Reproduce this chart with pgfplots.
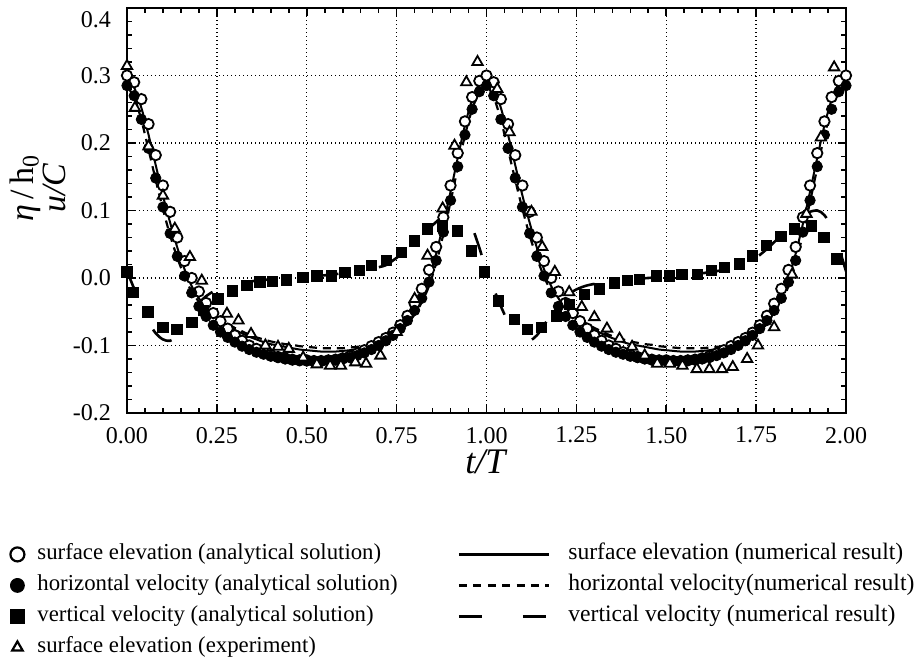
\documentclass[border=0pt]{standalone}
\usepackage{fontspec}
\setmainfont{Liberation Serif}
\usepackage{pgfplots}
\pgfplotsset{compat=1.18}
\usetikzlibrary{calc}

% analytical surface elevation eta/h0
\pgfplotstableread{
t y
0.00 0.300
0.02 0.290
0.04 0.265
0.06 0.228
0.08 0.182
0.10 0.137
0.12 0.098
0.14 0.060
0.16 0.025
0.18 0.000
0.20 -0.020
0.22 -0.037
0.24 -0.052
0.26 -0.064
0.28 -0.075
0.30 -0.085
0.32 -0.093
0.34 -0.100
0.36 -0.105
0.38 -0.110
0.40 -0.114
0.42 -0.117
0.44 -0.119
0.46 -0.121
0.48 -0.122
0.50 -0.122
0.52 -0.123
0.54 -0.123
0.56 -0.122
0.58 -0.121
0.60 -0.119
0.62 -0.116
0.64 -0.112
0.66 -0.107
0.68 -0.101
0.70 -0.095
0.72 -0.089
0.74 -0.081
0.76 -0.070
0.78 -0.056
0.80 -0.038
0.82 -0.016
0.84 0.012
0.86 0.046
0.88 0.090
0.90 0.137
0.92 0.185
0.94 0.232
0.96 0.268
0.98 0.292
1.00 0.300
1.02 0.290
1.04 0.265
1.06 0.228
1.08 0.182
1.10 0.137
1.12 0.098
1.14 0.060
1.16 0.025
1.18 0.000
1.20 -0.020
1.22 -0.037
1.24 -0.052
1.26 -0.064
1.28 -0.075
1.30 -0.085
1.32 -0.093
1.34 -0.100
1.36 -0.105
1.38 -0.110
1.40 -0.114
1.42 -0.117
1.44 -0.119
1.46 -0.121
1.48 -0.122
1.50 -0.122
1.52 -0.123
1.54 -0.123
1.56 -0.122
1.58 -0.121
1.60 -0.119
1.62 -0.116
1.64 -0.112
1.66 -0.107
1.68 -0.101
1.70 -0.095
1.72 -0.089
1.74 -0.081
1.76 -0.070
1.78 -0.056
1.80 -0.038
1.82 -0.016
1.84 0.012
1.86 0.046
1.88 0.090
1.90 0.137
1.92 0.185
1.94 0.232
1.96 0.268
1.98 0.292
2.00 0.300
}\etaana

% analytical horizontal velocity u/C
\pgfplotstableread{
t y
0.00 0.285
0.02 0.270
0.04 0.235
0.06 0.192
0.08 0.148
0.10 0.105
0.12 0.066
0.14 0.032
0.16 0.003
0.18 -0.022
0.20 -0.042
0.22 -0.057
0.24 -0.070
0.26 -0.080
0.28 -0.088
0.30 -0.095
0.32 -0.101
0.34 -0.106
0.36 -0.110
0.38 -0.113
0.40 -0.116
0.42 -0.118
0.44 -0.120
0.46 -0.121
0.48 -0.122
0.50 -0.123
0.52 -0.123
0.54 -0.123
0.56 -0.122
0.58 -0.121
0.60 -0.120
0.62 -0.118
0.64 -0.115
0.66 -0.111
0.68 -0.106
0.70 -0.100
0.72 -0.093
0.74 -0.085
0.76 -0.075
0.78 -0.063
0.80 -0.048
0.82 -0.030
0.84 -0.006
0.86 0.026
0.88 0.068
0.90 0.115
0.92 0.165
0.94 0.212
0.96 0.250
0.98 0.276
1.00 0.285
1.02 0.270
1.04 0.235
1.06 0.192
1.08 0.148
1.10 0.105
1.12 0.066
1.14 0.032
1.16 0.003
1.18 -0.022
1.20 -0.042
1.22 -0.057
1.24 -0.070
1.26 -0.080
1.28 -0.088
1.30 -0.095
1.32 -0.101
1.34 -0.106
1.36 -0.110
1.38 -0.113
1.40 -0.116
1.42 -0.118
1.44 -0.120
1.46 -0.121
1.48 -0.122
1.50 -0.123
1.52 -0.123
1.54 -0.123
1.56 -0.122
1.58 -0.121
1.60 -0.120
1.62 -0.118
1.64 -0.115
1.66 -0.111
1.68 -0.106
1.70 -0.100
1.72 -0.093
1.74 -0.085
1.76 -0.075
1.78 -0.063
1.80 -0.048
1.82 -0.030
1.84 -0.006
1.86 0.026
1.88 0.068
1.90 0.115
1.92 0.165
1.94 0.212
1.96 0.250
1.98 0.276
2.00 0.285
}\uana

% analytical vertical velocity
\pgfplotstableread{
t y
0.000 0.009
0.017 -0.021
0.058 -0.050
0.100 -0.073
0.139 -0.076
0.180 -0.066
0.213 -0.048
0.253 -0.031
0.294 -0.019
0.333 -0.011
0.370 -0.006
0.405 -0.005
0.444 -0.003
0.489 0.001
0.528 0.003
0.569 0.003
0.606 0.008
0.647 0.011
0.680 0.019
0.722 0.026
0.764 0.038
0.800 0.055
0.836 0.073
0.878 0.077
0.919 0.070
0.958 0.040
0.994 0.009
1.033 -0.034
1.078 -0.061
1.114 -0.076
1.153 -0.073
1.194 -0.056
1.231 -0.039
1.272 -0.024
1.314 -0.016
1.356 -0.007
1.392 -0.004
1.425 -0.002
1.472 0.003
1.508 0.003
1.544 0.005
1.586 0.005
1.625 0.011
1.661 0.016
1.703 0.021
1.739 0.033
1.778 0.048
1.819 0.062
1.856 0.073
1.903 0.077
1.939 0.060
1.975 0.028
}\wana

% measured surface elevation
\pgfplotstableread{
t y
0.000 0.314
0.022 0.252
0.060 0.195
0.100 0.122
0.133 0.073
0.175 0.031
0.208 -0.004
0.278 -0.053
0.310 -0.063
0.345 -0.083
0.385 -0.100
0.420 -0.102
0.450 -0.105
0.490 -0.118
0.528 -0.128
0.565 -0.130
0.595 -0.130
0.635 -0.125
0.665 -0.127
0.705 -0.115
0.750 -0.080
0.800 -0.031
0.836 0.033
0.878 0.103
0.911 0.196
0.944 0.290
0.975 0.320
1.030 0.280
1.064 0.216
1.125 0.098
1.155 0.046
1.190 0.009
1.230 -0.021
1.265 -0.043
1.300 -0.058
1.335 -0.075
1.370 -0.090
1.405 -0.102
1.440 -0.115
1.475 -0.127
1.510 -0.127
1.545 -0.130
1.585 -0.135
1.620 -0.135
1.655 -0.135
1.685 -0.132
1.725 -0.120
1.755 -0.100
1.800 -0.073
1.850 0.005
1.890 0.095
1.930 0.208
1.967 0.312
}\etaexp

% numerical surface elevation
\pgfplotstableread{
t y
0.00 0.295
0.02 0.282
0.04 0.252
0.06 0.212
0.08 0.167
0.10 0.122
0.12 0.082
0.14 0.045
0.16 0.013
0.18 -0.012
0.20 -0.030
0.22 -0.044
0.24 -0.055
0.26 -0.064
0.28 -0.071
0.30 -0.077
0.32 -0.082
0.34 -0.087
0.36 -0.091
0.38 -0.095
0.40 -0.098
0.42 -0.100
0.44 -0.102
0.46 -0.104
0.48 -0.106
0.50 -0.107
0.52 -0.108
0.54 -0.109
0.56 -0.109
0.58 -0.109
0.60 -0.108
0.62 -0.107
0.64 -0.105
0.66 -0.103
0.68 -0.100
0.70 -0.096
0.72 -0.090
0.74 -0.082
0.76 -0.072
0.78 -0.060
0.80 -0.045
0.82 -0.025
0.84 0.000
0.86 0.036
0.88 0.080
0.90 0.128
0.92 0.178
0.94 0.226
0.96 0.264
0.98 0.288
1.00 0.297
1.02 0.282
1.04 0.252
1.06 0.212
1.08 0.167
1.10 0.122
1.12 0.082
1.14 0.045
1.16 0.013
1.18 -0.012
1.20 -0.030
1.22 -0.044
1.24 -0.055
1.26 -0.064
1.28 -0.071
1.30 -0.077
1.32 -0.082
1.34 -0.087
1.36 -0.091
1.38 -0.095
1.40 -0.098
1.42 -0.100
1.44 -0.102
1.46 -0.104
1.48 -0.106
1.50 -0.107
1.52 -0.108
1.54 -0.109
1.56 -0.109
1.58 -0.109
1.60 -0.108
1.62 -0.107
1.64 -0.105
1.66 -0.103
1.68 -0.100
1.70 -0.096
1.72 -0.090
1.74 -0.082
1.76 -0.072
1.78 -0.060
1.80 -0.045
1.82 -0.025
1.84 0.000
1.86 0.036
1.88 0.080
1.90 0.128
1.92 0.178
1.94 0.226
1.96 0.264
1.98 0.288
2.00 0.297
}\etanum

% numerical horizontal velocity
\pgfplotstableread{
t y
0.00 0.283
0.02 0.268
0.04 0.234
0.06 0.190
0.08 0.145
0.10 0.102
0.12 0.063
0.14 0.030
0.16 0.002
0.18 -0.020
0.20 -0.035
0.22 -0.045
0.24 -0.053
0.26 -0.062
0.28 -0.068
0.30 -0.074
0.32 -0.079
0.34 -0.084
0.36 -0.088
0.38 -0.091
0.40 -0.094
0.42 -0.096
0.44 -0.098
0.46 -0.099
0.48 -0.101
0.50 -0.102
0.52 -0.103
0.54 -0.104
0.56 -0.104
0.58 -0.104
0.60 -0.104
0.62 -0.103
0.64 -0.102
0.66 -0.101
0.68 -0.099
0.70 -0.096
0.72 -0.093
0.74 -0.087
0.76 -0.079
0.78 -0.068
0.80 -0.054
0.82 -0.036
0.84 -0.012
0.86 0.022
0.88 0.065
0.90 0.113
0.92 0.163
0.94 0.211
0.96 0.250
0.98 0.275
1.00 0.284
1.02 0.268
1.04 0.234
1.06 0.190
1.08 0.145
1.10 0.102
1.12 0.063
1.14 0.030
1.16 0.002
1.18 -0.020
1.20 -0.035
1.22 -0.045
1.24 -0.053
1.26 -0.062
1.28 -0.068
1.30 -0.074
1.32 -0.079
1.34 -0.084
1.36 -0.088
1.38 -0.091
1.40 -0.094
1.42 -0.096
1.44 -0.098
1.46 -0.099
1.48 -0.101
1.50 -0.102
1.52 -0.103
1.54 -0.104
1.56 -0.104
1.58 -0.104
1.60 -0.104
1.62 -0.103
1.64 -0.102
1.66 -0.101
1.68 -0.099
1.70 -0.096
1.72 -0.093
1.74 -0.087
1.76 -0.079
1.78 -0.068
1.80 -0.054
1.82 -0.036
1.84 -0.012
1.86 0.022
1.88 0.065
1.90 0.113
1.92 0.163
1.94 0.211
1.96 0.250
1.98 0.275
2.00 0.284
}\unum

% numerical vertical velocity
\pgfplotstableread{
t y
0.00 0.010
0.02 -0.016
0.04 -0.042
0.06 -0.065
0.08 -0.082
0.10 -0.091
0.12 -0.093
0.14 -0.085
0.16 -0.070
0.18 -0.053
0.20 -0.038
0.22 -0.027
0.25 -0.017
0.28 -0.011
0.32 -0.007
0.36 -0.004
0.40 -0.002
0.45 0.000
0.50 0.002
0.55 0.004
0.60 0.007
0.65 0.011
0.70 0.016
0.72 0.019
0.74 0.026
0.76 0.034
0.78 0.043
0.80 0.053
0.83 0.068
0.86 0.083
0.89 0.096
0.92 0.100
0.94 0.093
0.96 0.075
0.98 0.045
1.00 0.010
1.02 -0.016
1.04 -0.042
1.06 -0.065
1.08 -0.082
1.10 -0.091
1.12 -0.093
1.14 -0.085
1.16 -0.070
1.18 -0.053
1.20 -0.038
1.22 -0.027
1.25 -0.017
1.28 -0.011
1.32 -0.007
1.36 -0.004
1.40 -0.002
1.45 0.000
1.50 0.002
1.55 0.004
1.60 0.007
1.65 0.011
1.70 0.016
1.72 0.019
1.74 0.026
1.76 0.034
1.78 0.043
1.80 0.053
1.83 0.068
1.86 0.083
1.89 0.096
1.92 0.100
1.94 0.093
1.96 0.075
1.98 0.045
2.00 0.010
}\wnum

\newcommand{\rfont}{\fontsize{11.8}{13}\selectfont}

\begin{document}
\begin{tikzpicture}
\begin{axis}[
  name=ax,
  scale only axis,
  width=359.5pt, height=202.5pt,
  xmin=0, xmax=2, ymin=-0.2, ymax=0.4,
  xtick={0,0.25,0.5,0.75,1,1.25,1.5,1.75,2},
  xticklabels={0.00,0.25,0.50,0.75,1.00,1.25,1.50,1.75,2.00},
  ytick={-0.2,-0.1,0,0.1,0.2,0.3,0.4},
  yticklabels={-0.2,-0.1,0.0,0.1,0.2,0.3,\smash{\raisebox{-10pt}{0.4}}},
  minor x tick num=4, minor y tick num=4,
  tick align=inside,
  major tick length=4pt, minor tick length=2.3pt,
  every tick/.style={black, line width=0.8pt},
  grid=major,
  grid style={black, line width=0.7pt, dash pattern=on 0.7pt off 1.3pt},
  axis line style={line width=1pt},
  ticklabel style={font=\fontsize{12}{14}\selectfont},
  yticklabel style={xshift=-4.5pt},
  xticklabel style={yshift=-3.5pt},
  xlabel={\textit{t/T}},
  xlabel style={font=\fontsize{18}{20}\selectfont, at={(axis description cs:0.5,-0.121)}, anchor=center},
  ylabel={\textit{η}\,/\,h\textsubscript{0}\\\textit{u/C}},
  ylabel style={font=\fontsize{17}{10}\selectfont, align=center, at={(axis description cs:-0.124,0.555)}, anchor=center},
  legend columns=2,
  legend style={
    at={(axis description cs:-0.1627,-0.326)}, anchor=north west,
    draw=none, fill=none, inner sep=0pt, row sep=6.5pt,
    font=\fontsize{11.4}{13}\selectfont,
    cells={anchor=west},
    nodes={inner sep=0pt, text height=7pt, text depth=2pt},
    /tikz/every odd column/.append style={column sep=6.5pt},
    /tikz/every even column/.append style={column sep=30pt},
  },
]
% numerical results
\addplot[forget plot, black, line width=1pt, smooth] table[x=t,y=y] {\etanum};
\addplot[forget plot, black, line width=1.1pt, dash pattern=on 4pt off 3pt, smooth] table[x=t,y=y] {\unum};
\addplot[forget plot, black, line width=1.3pt, dash pattern=on 11.5pt off 20.5pt, smooth] table[x=t,y=y] {\wnum};
% analytical solution
\addplot[forget plot, only marks, mark=*, mark size=2.6pt, mark options={fill=white, draw=black, line width=0.9pt}] table[x=t,y=y] {\etaana};
\addplot[forget plot, only marks, mark=*, mark size=2.6pt, mark options={fill=black, draw=black}] table[x=t,y=y] {\uana};
\addplot[forget plot, only marks, mark=square*, mark size=2.6pt, mark options={fill=black, draw=black}] table[x=t,y=y] {\wana};
% experiment
\addplot[forget plot, only marks, mark=triangle*, mark size=3pt, mark options={fill=white, draw=black, line width=0.9pt}] table[x=t,y=y] {\etaexp};

% legend
\addlegendimage{only marks, mark=*, mark size=3.5pt, mark options={fill=white, draw=black, line width=1.1pt}}
\addlegendentry{surface elevation (analytical solution)}
\addlegendimage{legend image code/.code={\draw[black, line width=1.1pt] (0pt,0pt) -- (45pt,0pt); \path (48pt,0pt);}}
\addlegendentry{\rfont surface elevation (numerical result)}
\addlegendimage{only marks, mark=*, mark size=3.5pt, mark options={fill=black, draw=black}}
\addlegendentry{horizontal velocity (analytical solution)}
\addlegendimage{legend image code/.code={\draw[black, line width=1.1pt, dash pattern=on 4pt off 3.2pt] (0pt,0pt) -- (45pt,0pt); \path (48pt,0pt);}}
\addlegendentry{\rfont horizontal velocity(numerical result)}
\addlegendimage{only marks, mark=square*, mark size=3.5pt, mark options={fill=black, draw=black}}
\addlegendentry{vertical velocity (analytical solution)}
\addlegendimage{legend image code/.code={\draw[black, line width=1.3pt, dash pattern=on 11.5pt off 20.5pt] (0pt,0pt) -- (45pt,0pt); \path (48pt,0pt);}}
\addlegendentry{\rfont vertical velocity (numerical result)}
\addlegendimage{only marks, mark=triangle*, mark size=3pt, mark options={fill=white, draw=black, line width=1.1pt}}
\addlegendentry{surface elevation (experiment)}
\end{axis}
\path ($(ax.south west)+(-63.5pt,-120pt)$) rectangle ($(ax.north east)+(36.5pt,4pt)$);
\end{tikzpicture}
\end{document}
